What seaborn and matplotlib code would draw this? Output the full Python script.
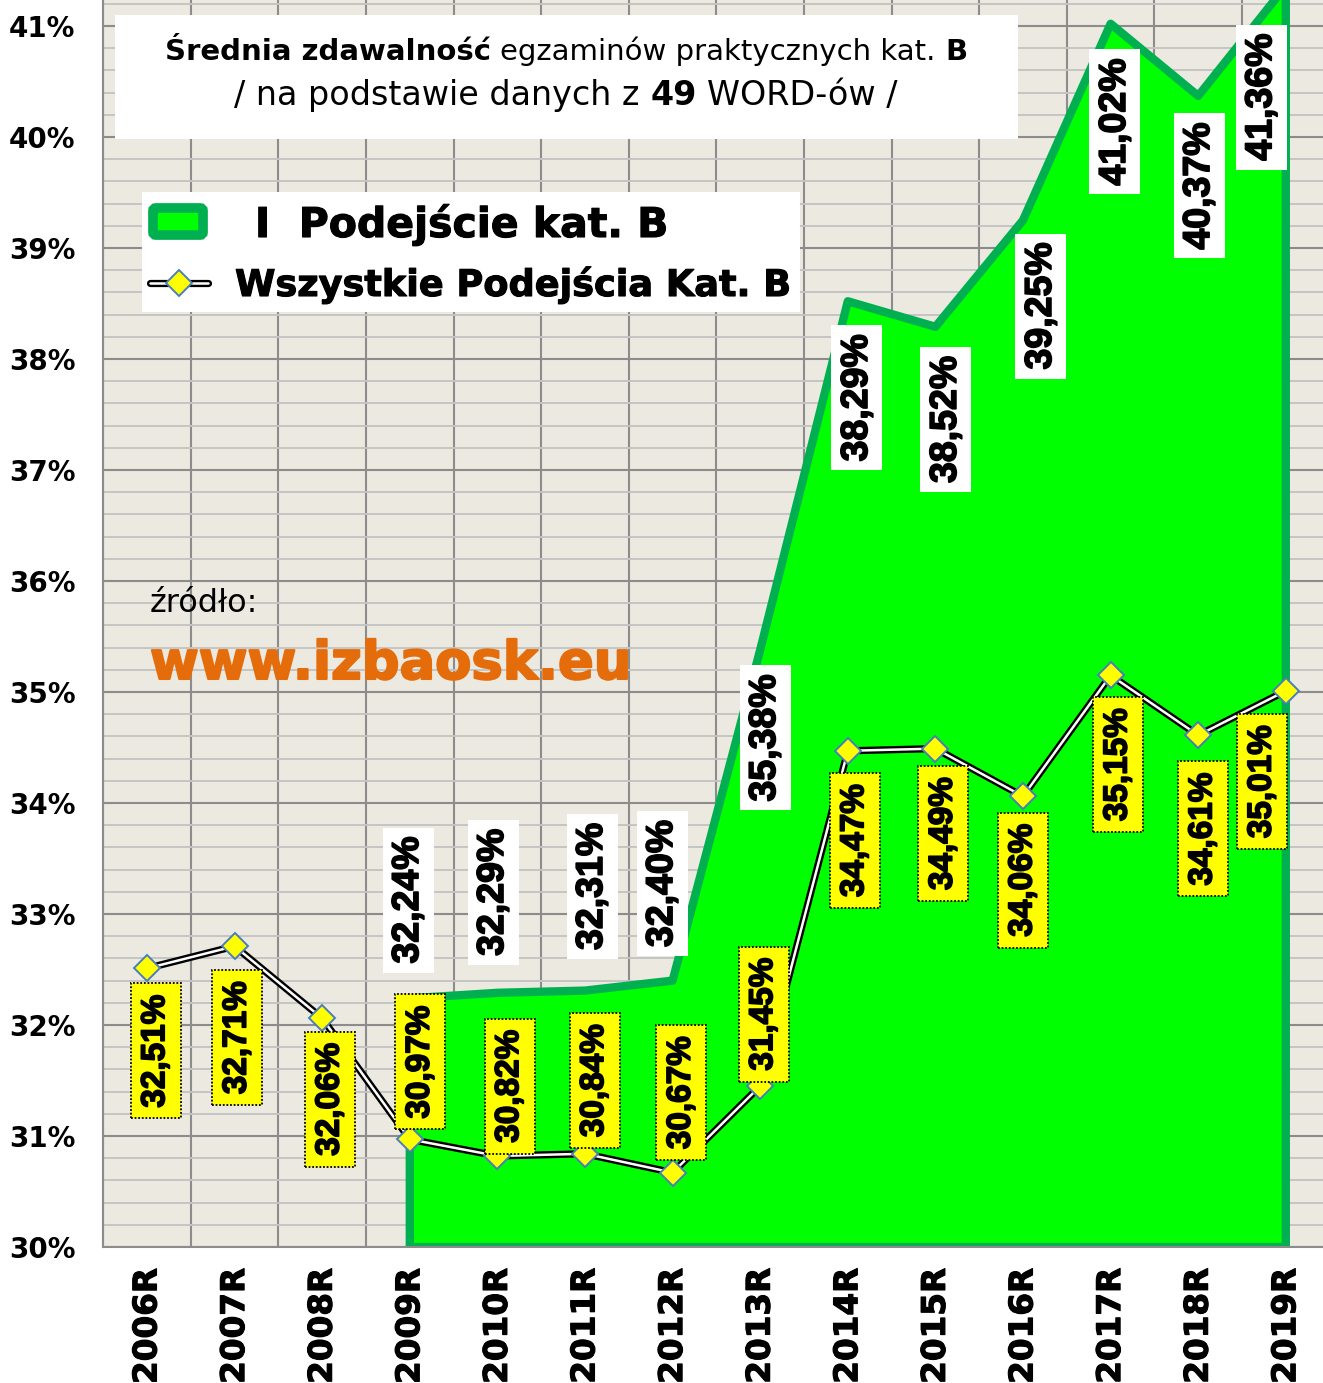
import matplotlib
matplotlib.use('Agg')
import matplotlib.pyplot as plt
import matplotlib.patches as mpatches
import matplotlib.patheffects as pe
import matplotlib.transforms as mtransforms
from matplotlib.lines import Line2D
from matplotlib.ticker import FixedLocator, MultipleLocator
import numpy as np
import seaborn as sns

years = ['2006R', '2007R', '2008R', '2009R', '2010R', '2011R', '2012R',
         '2013R', '2014R', '2015R', '2016R', '2017R', '2018R', '2019R']
# "I Podejście kat. B" - from 2009 on
first_years = years[3:]
first_try = [32.24, 32.29, 32.31, 32.40, 35.38, 38.52, 38.29, 39.25, 41.02, 40.37, 41.36]
first_try_labels = ['32,24%', '32,29%', '32,31%', '32,40%', '35,38%', '38,29%',
                    '38,52%', '39,25%', '41,02%', '40,37%', '41,36%']
# "Wszystkie Podejścia Kat. B"
all_tries = [32.51, 32.71, 32.06, 30.97, 30.82, 30.84, 30.67, 31.45,
             34.47, 34.49, 34.06, 35.15, 34.61, 35.01]
y_ticks = list(range(30, 42))

W, H = 1323, 1383
sns.set_theme(style='white')
plt.rcParams['font.family'] = ['DejaVu Sans']
plt.rcParams['text.color'] = 'black'
plt.rcParams['xtick.color'] = 'black'
plt.rcParams['ytick.color'] = 'black'

heavy = [pe.withStroke(linewidth=1.2, foreground='black')]

fig = plt.figure(figsize=(W / 100, H / 100), dpi=100, facecolor='white')
# axes placed in pixels: x from 103 to 1330, y from 0 to 1247
ax = fig.add_axes([103.2 / W, (H - 1247) / H, 1226.4 / W, 1247 / H])
ax.set_facecolor('#ECE9E0')
ax.set_xlim(-0.5, 13.5)
ax.set_ylim(30, 41.234)

xi = np.arange(len(years))
xf = xi[3:]

# green area for first attempt
ax.fill(np.r_[xf[0], xf, xf[-1]], np.r_[30, first_try, 30],
        facecolor='#00FF00', edgecolor='#00B050', linewidth=6,
        joinstyle='round', zorder=2)

# double line (black outline + white core) with yellow diamonds
sns.lineplot(x=xi, y=all_tries, ax=ax, color='black', linewidth=5.2,
             zorder=3, legend=False)
sns.lineplot(x=xi, y=all_tries, ax=ax, color='white', linewidth=1.8,
             marker='D', markersize=13, markerfacecolor='#FFFF00',
             markeredgecolor='#4A7EBB', markeredgewidth=1.4,
             zorder=4, legend=False)

# value labels: white boxes for the area
wx_off = [-0.02, -0.05, 0.08, -0.12, 0.055, 0.105, 0.12, 0.205, 0.05, 0.01, -0.28]
wy = [33.126, 33.194, 33.248, 33.275, 34.586, 37.649, 37.455, 38.477, 40.135, 39.559, 40.36]
bw, bh = 51 / 87.6, 145 / 111
for x, dx, yc, lab in zip(xf, wx_off, wy, first_try_labels):
    cx = x + dx
    ax.add_patch(mpatches.Rectangle((cx - bw / 2, yc - bh / 2), bw, bh,
                                    facecolor='white', edgecolor='none', zorder=6))
    ax.text(cx, yc, lab, rotation=90, ha='center', va='center', fontsize=27,
            fontweight='bold', family='Liberation Sans', color='black', zorder=7,
            path_effects=heavy)

# value labels: yellow boxes for the line
yx_off = [0.10, 0.03, 0.09, 0.12, 0.14, 0.11, 0.10, 0.04, 0.08, 0.09, 0.0, 0.085, 0.055, -0.27]
yy = [31.766, 31.887, 31.333, 31.667, 31.45, 31.5, 31.392, 32.099,
      33.662, 33.725, 33.306, 34.347, 33.766, 34.194]
yw, yh = 50 / 87.6, 135 / 111
for x, dx, yc, v in zip(xi, yx_off, yy, all_tries):
    cx = x + dx
    ax.add_patch(mpatches.Rectangle((cx - yw / 2, yc - yh / 2), yw, yh,
                                    facecolor='#FFFF00', edgecolor='black',
                                    linestyle=(0, (1, 1)), linewidth=1.3, zorder=6))
    ax.text(cx, yc, f'{v:.2f}%'.replace('.', ','), rotation=90, ha='center',
            va='center', fontsize=24, fontweight='bold', family='Liberation Sans',
            color='black', zorder=7, path_effects=heavy)

# axes, ticks, grid
ax.set_xticks(xi)
ax.set_xticklabels(years, rotation=90, fontsize=23.5, fontweight='bold')
for t in ax.get_xticklabels():
    t.set_path_effects([pe.withStroke(linewidth=0.8, foreground='black')])
ax.xaxis.set_minor_locator(FixedLocator(np.arange(-0.5, 14, 1)))
ax.set_yticks(y_ticks)
ax.set_yticklabels([f'{v}%' for v in y_ticks], fontsize=20, fontweight='bold')
ax.yaxis.set_minor_locator(MultipleLocator(0.2))
ax.tick_params(axis='x', which='major', length=0, pad=15, labelcolor='black')
ax.tick_params(axis='x', which='minor', length=8, width=1.5, color='#8C8C8C', direction='out')
ax.tick_params(axis='y', which='major', length=7, width=1.5, color='#8C8C8C', pad=13,
               direction='out', labelcolor='black')
ax.tick_params(axis='y', which='minor', length=0)
ax.grid(False)
ax.grid(True, which='minor', axis='y', color='#C4C4C4', linewidth=1.4)
ax.grid(True, which='major', axis='y', color='#8C8C8C', linewidth=1.5)
ax.grid(True, which='minor', axis='x', color='#8C8C8C', linewidth=1.5)
ax.set_axisbelow(True)
for s in ['top', 'right']:
    ax.spines[s].set_visible(False)
for s in ['left', 'bottom']:
    ax.spines[s].set_color('#8C8C8C')
    ax.spines[s].set_linewidth(1.5)
ax.set_xlabel('')
ax.set_ylabel('')

# pixel transform (image coords, y downwards)
T = mtransforms.Affine2D().scale(1, -1).translate(0, H)

# title box
fig.add_artist(mpatches.Rectangle((115, 15), 903, 124, transform=T,
                                  facecolor='white', edgecolor='none', zorder=5))
renderer = fig.canvas.get_renderer()


def rich_line(parts, cx, yb, size):
    texts = [fig.text(0, 0, s, fontsize=size, fontweight=w, transform=T,
                      ha='left', va='baseline', zorder=6, color='black')
             for s, w in parts]
    probe_a = fig.text(0, 0, 'x x', fontsize=size)
    probe_b = fig.text(0, 0, 'xx', fontsize=size)
    gap = (probe_a.get_window_extent(renderer).width
           - probe_b.get_window_extent(renderer).width)
    probe_a.remove()
    probe_b.remove()
    widths = [t.get_window_extent(renderer).width for t in texts]
    total = sum(widths) + gap * (len(texts) - 1)
    x = cx - total / 2
    for t, w in zip(texts, widths):
        t.set_position((x, yb))
        x += w + gap


rich_line([('Średnia zdawalność', 'bold'), ('egzaminów praktycznych kat.', 'normal'),
           ('B', 'bold')], 566, 60, 21)
rich_line([('/ na podstawie danych z', 'normal'), ('49', 'bold'),
           ('WORD-ów /', 'normal')], 566, 105, 24)

# legend box
fig.add_artist(mpatches.Rectangle((142, 192), 658, 120, transform=T,
                                  facecolor='white', edgecolor='none', zorder=5))
fig.add_artist(mpatches.FancyBboxPatch((153, 208), 50, 27, transform=T,
                                       boxstyle='round,pad=0,rounding_size=3',
                                       facecolor='#00FF00', edgecolor='#00B050',
                                       linewidth=7, zorder=6))
fig.add_artist(Line2D([150, 208], [283, 283], transform=T, color='black',
                      linewidth=5.2, solid_capstyle='round', zorder=6))
fig.add_artist(Line2D([150, 208], [283, 283], transform=T, color='white',
                      linewidth=1.8, solid_capstyle='round', zorder=7))
fig.add_artist(Line2D([179], [283], transform=T, marker='D', markersize=13,
                      markerfacecolor='#FFFF00', markeredgecolor='#4A7EBB',
                      markeredgewidth=1.4, linestyle='none', zorder=8))
fig.text(255, 237, 'I  Podejście kat. B', transform=T, fontsize=29.5,
         fontweight='bold', ha='left', va='baseline', zorder=6,
         path_effects=[pe.withStroke(linewidth=0.8, foreground='black')])
fig.text(235, 296, 'Wszystkie Podejścia Kat. B', transform=T, fontsize=26.4,
         fontweight='bold', ha='left', va='baseline', zorder=6,
         path_effects=[pe.withStroke(linewidth=0.8, foreground='black')])

# source
fig.text(150, 612, 'źródło:', transform=T, fontsize=23, ha='left',
         va='baseline', zorder=6)
fig.text(150, 679, 'www.izbaosk.eu', transform=T, fontsize=38, fontweight='bold',
         color='#E46C0A', ha='left', va='baseline', zorder=6,
         path_effects=[pe.withStroke(linewidth=1.5, foreground='#E46C0A')])

fig.savefig('out.png', dpi=100)
plt.close(fig)
